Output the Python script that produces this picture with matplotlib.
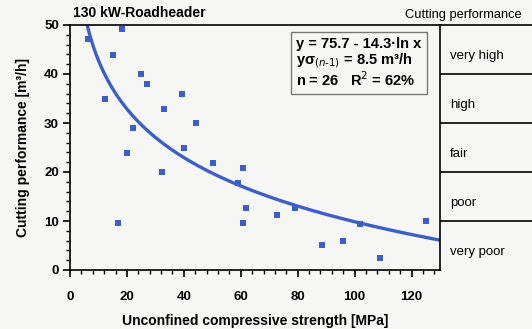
import numpy as np
import matplotlib
matplotlib.use("Agg")
import matplotlib.pyplot as plt
from matplotlib.ticker import MultipleLocator

plt.rcParams["font.family"] = ["Liberation Sans", "DejaVu Sans"]

BLUE = "#3b5fc6"
BG = "#f6f6f4"

# measured points: unconfined compressive strength [MPa] vs cutting performance [m3/h]
ucs = [6.4, 18.4, 15.2, 25.0, 26.9, 12.3, 39.2, 33.0, 44.1, 22.2, 40.1, 20.1, 50.1,
       60.9, 32.2, 58.9, 62.0, 60.9, 17.0, 72.9, 79.0, 88.7, 95.8, 101.8, 108.8, 125.2]
perf = [47.1, 49.1, 43.9, 40.0, 38.0, 35.0, 35.9, 32.9, 29.9, 29.0, 25.0, 23.9, 21.9,
        20.9, 19.9, 17.7, 12.7, 9.5, 9.5, 11.2, 12.6, 5.2, 6.0, 9.4, 2.4, 9.9]

# regression y = a - b ln x
fit_a = 75.7
fit_b = 14.3

classes = ["very high", "high", "fair", "poor", "very poor"]
class_bounds = [40, 30, 20, 10]

fig = plt.figure(figsize=(5.32, 3.29), dpi=100, facecolor=BG)
left, right = 70 / 532, 440 / 532
bottom, top = 1 - 270 / 329, 1 - 25 / 329
ax = fig.add_axes([left, bottom, right - left, top - bottom])
ax.set_facecolor(BG)

xs = np.linspace(np.exp((fit_a - 50) / fit_b), 130, 300)
ax.plot(xs, fit_a - fit_b * np.log(xs), color=BLUE, lw=2.4, zorder=2)
ax.scatter(ucs, perf, marker="s", s=13, color=BLUE, linewidths=0, zorder=3)

ax.set_xlim(0, 130)
ax.set_ylim(0, 50)
ax.xaxis.set_major_locator(MultipleLocator(20))
ax.xaxis.set_minor_locator(MultipleLocator(4))
ax.yaxis.set_major_locator(MultipleLocator(10))
ax.yaxis.set_minor_locator(MultipleLocator(2))
ax.tick_params(which="major", direction="out", length=5, width=1.2, labelsize=9.5, pad=3)
ax.tick_params(which="minor", direction="out", length=3, width=1)
for lab in ax.get_xticklabels() + ax.get_yticklabels():
    lab.set_fontweight("bold")
ax.xaxis.set_tick_params(pad=10)
ax.spines["right"].set_visible(False)
for s in ["left", "bottom", "top"]:
    ax.spines[s].set_linewidth(1.2)

ax.set_xlabel("Unconfined compressive strength [MPa]", fontsize=10, fontweight="bold", labelpad=8)
ax.set_ylabel("Cutting performance [m³/h]", fontsize=10, fontweight="bold", labelpad=10)

eq = "y = 75.7 - 14.3·ln x\nyσ$_{(n\u20111)}$ = 8.5 m³/h\nn = 26   R$^2$ = 62%"
ax.text(0.612, 0.95, eq, transform=ax.transAxes, va="top", ha="left",
        fontsize=10.5, fontweight="bold", linespacing=1.0,
        bbox=dict(boxstyle="square,pad=0.35", facecolor="none", edgecolor="#777777", lw=1))

# classification panel
pax = fig.add_axes([right, bottom, 1 - right, top - bottom])
pax.set_facecolor(BG)
pax.set_xlim(0, 1)
pax.set_ylim(0, 50)
pax.set_xticks([])
pax.set_yticks([])
for s in ["right", "bottom"]:
    pax.spines[s].set_visible(False)
for s in ["left", "top"]:
    pax.spines[s].set_linewidth(1.2)
for yb in class_bounds:
    pax.axhline(yb, color="black", lw=1.2)
for i, name in enumerate(classes):
    pax.text(0.11, 45 - 10 * i - 1.3, name, va="center", ha="left", fontsize=9.5)

fig.text(73 / 532, 1 - 13 / 329, "130 kW-Roadheader", fontsize=10, fontweight="bold",
         va="center", ha="left")
fig.text(405 / 532, 1 - 15 / 329, "Cutting performance", fontsize=9.3,
         va="center", ha="left")

fig.savefig("out.png", dpi=100, facecolor=BG)
